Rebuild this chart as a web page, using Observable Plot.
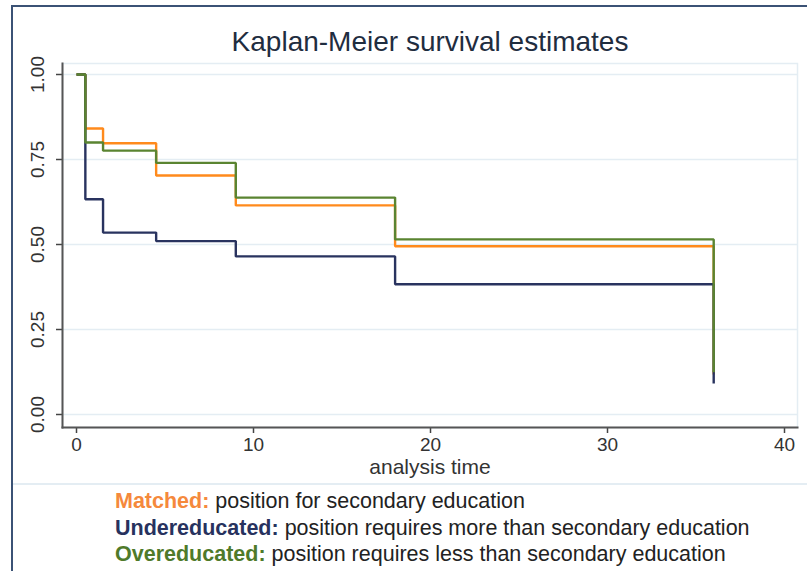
<!DOCTYPE html>
<html>
<head>
<meta charset="utf-8">
<script src="https://cdn.jsdelivr.net/npm/d3@7"></script>
<script src="https://cdn.jsdelivr.net/npm/@observablehq/plot@0.6"></script>
<style>
  html, body { margin: 0; padding: 0; background: #fff; }
  #wrap { position: relative; width: 807px; height: 571px; overflow: hidden; font-family: "Liberation Sans", Arial, sans-serif; }
  #frame { position: absolute; left: 11px; top: 5px; width: 820px; height: 580px; border-left: 2px solid #3b5275; border-top: 2px solid #3b5275; pointer-events: none; }
  #title { position: absolute; left: 0; width: 860px; top: 26px; text-align: center; font-size: 28px; color: #1f2d3f; }
  #chart { position: absolute; left: 0; top: 0; }
  #xlabel { position: absolute; left: 0; width: 860px; top: 455px; text-align: center; font-size: 21px; color: #333; }
  #sep { position: absolute; left: 13px; width: 800px; top: 483px; height: 0; border-top: 2px solid #e4edf3; }
  #legend { position: absolute; left: 115px; top: 488px; font-size: 21.5px; color: #222; line-height: 26.5px; }
  #legend b { font-weight: bold; }
</style>
</head>
<body>
<div id="wrap">
  <div id="chart"></div>
  <div id="title">Kaplan-Meier survival estimates</div>
  <div id="xlabel">analysis time</div>
  <div id="sep"></div>
  <div id="legend"></div>
  <div id="frame"></div>
</div>
<script>
// Data
const times = [0, 0.5, 1.5, 4.5, 9, 18, 36];
const matched = [1, 0.841, 0.798, 0.703, 0.615, 0.495, 0.118];
const undereducated = [1, 0.633, 0.535, 0.51, 0.465, 0.383, 0.091];
const overeducated = [1, 0.80, 0.776, 0.74, 0.638, 0.515, 0.124];
const groups = ["Matched", "Undereducated", "Overeducated"];
const colors = ["#ff8a1c", "#29335f", "#5a8431"];
const legendText = [
  "position for secondary education",
  "position requires more than secondary education",
  "position requires less than secondary education"
];
const legendColors = ["#f5893c", "#27325e", "#4f7a2a"];
const xTicks = [0, 10, 20, 30, 40];
const yTicks = [0, 0.25, 0.5, 0.75, 1];

const series = [matched, undereducated, overeducated];
const tables = series.map((s, gi) => times.map((t, i) => ({group: groups[gi], time: t, surv: s[i]})));

const W = 807, H = 480;
const chart = Plot.plot({
  width: W,
  height: H,
  marginLeft: 62,
  marginRight: 10,
  marginTop: 63,
  marginBottom: 53,
  style: {background: "transparent", fontFamily: "Liberation Sans, Arial, sans-serif", color: "#333"},
  x: {domain: [0, 40], range: [76, 784]},
  y: {domain: [0, 1], range: [414, 74]},
  color: {domain: groups, range: colors},
  marks: [
    Plot.frame({stroke: "#e4edf3", strokeWidth: 1.5}),
    Plot.ruleY(yTicks, {stroke: "#e4edf3", strokeWidth: 1.5}),
    Plot.axisY({ticks: yTicks, label: null, tickFormat: d3.format(".2f"), tickSize: 6, tickRotate: -90, tickPadding: 13, fontSize: 19, stroke: "#444", strokeWidth: 1.5, fill: "#333"}),
    Plot.axisX({ticks: xTicks, label: null, tickSize: 6, tickPadding: 4, fontSize: 19, stroke: "#444", strokeWidth: 1.5, fill: "#333"}),
    Plot.frame({anchor: "left", stroke: "#555", strokeWidth: 2}),
    Plot.frame({anchor: "bottom", stroke: "#555", strokeWidth: 2}),
    ...tables.map(tbl => Plot.line(tbl, {x: "time", y: "surv", stroke: "group", curve: "step-after", strokeWidth: 2.4, strokeLinejoin: "miter", strokeLinecap: "butt"}))
  ]
});
document.getElementById("chart").appendChild(chart);

const leg = document.getElementById("legend");
groups.forEach((g, i) => {
  const div = document.createElement("div");
  const b = document.createElement("b");
  b.style.color = legendColors[i];
  b.textContent = g + ":";
  div.appendChild(b);
  div.appendChild(document.createTextNode(" " + legendText[i]));
  leg.appendChild(div);
});
</script>
</body>
</html>
